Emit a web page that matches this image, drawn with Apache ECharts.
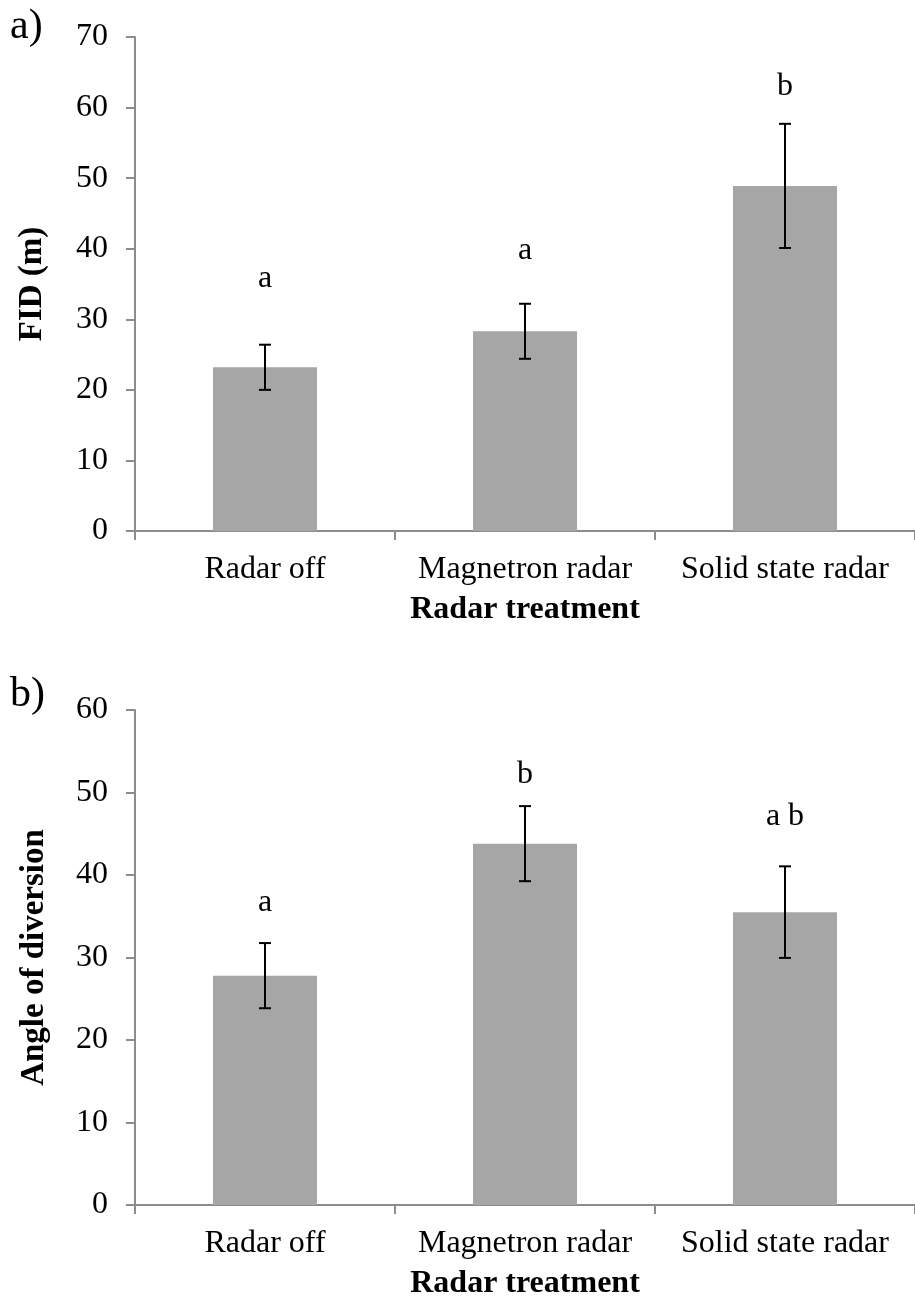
<!DOCTYPE html>
<html>
<head>
<meta charset="utf-8">
<script src="https://cdn.jsdelivr.net/npm/echarts@6/dist/echarts.min.js"></script>
<style>
html,body{margin:0;padding:0;background:#fff;}
#chart{width:915px;height:1302px;}
</style>
</head>
<body>
<div id="chart"></div>
<script>
const categories = ['Radar off', 'Magnetron radar', 'Solid state radar'];
const fidMean = [23.2, 28.3, 48.9];
const fidErr = [3.2, 3.9, 8.8];
const fidLetters = ['a', 'a', 'b'];
const fidLetterY = [35.7, 39.8, 63.0];
const angleMean = [27.8, 43.8, 35.5];
const angleErr = [3.95, 4.55, 5.55];
const angleLetters = ['a', 'b', 'a b'];
const angleLetterY = [36.6, 52.2, 47.1];
const fidAxis = {min: 0, max: 70, interval: 10};
const angleAxis = {min: 0, max: 60, interval: 10};
const panelLabels = ['a)', 'b)'];

const FONT = '"Liberation Serif", "Times New Roman", serif';
const AXIS_COLOR = '#8c8c8c';

function xAxisCfg(gi) {
  return {
    type: 'category', gridIndex: gi, data: categories,
    axisLine: {lineStyle: {color: AXIS_COLOR, width: 2}},
    axisTick: {show: true, interval: 0, alignWithLabel: false, length: 9, lineStyle: {color: AXIS_COLOR, width: 2}},
    axisLabel: {interval: 0, color: '#000', fontFamily: FONT, fontSize: 32, lineHeight: 32, margin: 23},
    name: 'Radar treatment', nameLocation: 'middle', nameGap: 63,
    nameTextStyle: {color: '#000', fontFamily: FONT, fontSize: 32, fontWeight: 'bold', lineHeight: 32}
  };
}
function yAxisCfg(gi, ax, name, gap) {
  return {
    type: 'value', gridIndex: gi, min: ax.min, max: ax.max, interval: ax.interval,
    splitLine: {show: false},
    axisLine: {show: true, lineStyle: {color: AXIS_COLOR, width: 2}},
    axisTick: {show: true, length: 9, lineStyle: {color: AXIS_COLOR, width: 2}},
    axisLabel: {color: '#000', fontFamily: FONT, fontSize: 32, margin: 27},
    name: name, nameLocation: 'middle', nameRotate: 90, nameGap: gap,
    nameTextStyle: {color: '#000', fontFamily: FONT, fontSize: 33, fontWeight: 'bold'}
  };
}
function barSeries(gi, vals) {
  return {
    type: 'bar', xAxisIndex: gi, yAxisIndex: gi, data: vals, barWidth: '40%',
    itemStyle: {color: '#a6a6a6'}, silent: true
  };
}
function errSeries(gi, means, errs) {
  return {
    type: 'custom', xAxisIndex: gi, yAxisIndex: gi, silent: true, z: 5,
    data: means.map((m, i) => [i, m, errs[i]]),
    encode: {x: 0, y: 1},
    renderItem: function (params, api) {
      const i = api.value(0), m = api.value(1), e = api.value(2);
      const t = api.coord([i, m + e]);
      const b = api.coord([i, m - e]);
      const hw = 6;
      const st = {stroke: '#000', lineWidth: 2};
      return {type: 'group', children: [
        {type: 'line', shape: {x1: t[0], y1: t[1], x2: b[0], y2: b[1]}, style: st},
        {type: 'line', shape: {x1: t[0] - hw, y1: t[1], x2: t[0] + hw, y2: t[1]}, style: st},
        {type: 'line', shape: {x1: b[0] - hw, y1: b[1], x2: b[0] + hw, y2: b[1]}, style: st}
      ]};
    }
  };
}
function letterSeries(gi, letters, ys) {
  return {
    type: 'custom', xAxisIndex: gi, yAxisIndex: gi, silent: true, z: 6,
    data: letters.map((l, i) => [i, ys[i], l]),
    encode: {x: 0, y: 1},
    renderItem: function (params, api) {
      const p = api.coord([api.value(0), api.value(1)]);
      return {type: 'text', x: p[0], y: p[1], style: {
        text: letters[params.dataIndex], fill: '#000',
        font: '32px ' + FONT, textAlign: 'center', textVerticalAlign: 'middle'
      }};
    }
  };
}

const chart = echarts.init(document.getElementById('chart'), null, {renderer: 'canvas'});
chart.setOption({
  backgroundColor: '#fff',
  animation: false,
  grid: [
    {left: 135, top: 37, width: 787, height: 494},
    {left: 135, top: 710, width: 787, height: 495}
  ],
  xAxis: [xAxisCfg(0), xAxisCfg(1)],
  yAxis: [yAxisCfg(0, fidAxis, 'FID (m)', 86), yAxisCfg(1, angleAxis, 'Angle of diversion', 84)],
  graphic: [
    {type: 'text', left: 10, top: 6, style: {text: panelLabels[0], font: '42px ' + FONT, fill: '#000'}},
    {type: 'text', left: 10, top: 674, style: {text: panelLabels[1], font: '42px ' + FONT, fill: '#000'}}
  ],
  series: [
    barSeries(0, fidMean), errSeries(0, fidMean, fidErr), letterSeries(0, fidLetters, fidLetterY),
    barSeries(1, angleMean), errSeries(1, angleMean, angleErr), letterSeries(1, angleLetters, angleLetterY)
  ]
});
</script>
</body>
</html>
